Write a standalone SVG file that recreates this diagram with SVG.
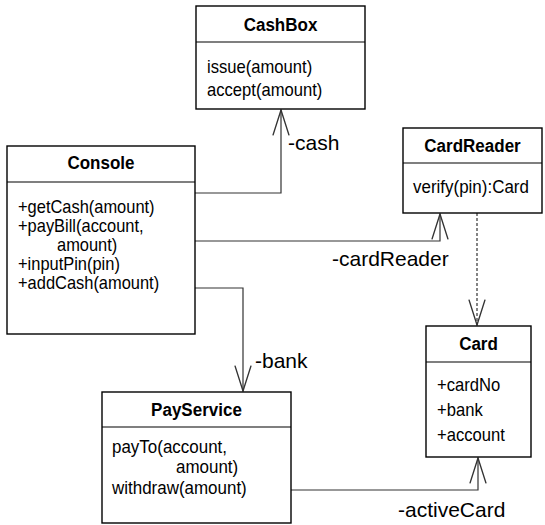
<svg xmlns="http://www.w3.org/2000/svg" width="545" height="525" viewBox="0 0 545 525">
  <style>
    .box { fill: #ffffff; stroke: #000000; stroke-width: 1.4; }
    .div { stroke: #000000; stroke-width: 1.2; }
    .title { font-family: "Liberation Sans", Arial, sans-serif; font-size: 18.5px; font-weight: bold; text-anchor: middle; fill: #000; }
    .member { font-family: "Liberation Sans", Arial, sans-serif; font-size: 17.5px; fill: #000; }
    .label { font-family: "Liberation Sans", Arial, sans-serif; font-size: 21px; fill: #000; }
    .conn { fill: none; stroke: #333333; stroke-width: 1.2; marker-end: url(#open); }
    .dep { stroke-dasharray: 3 2; }
  </style>
  <defs>
    <marker id="open" markerUnits="userSpaceOnUse" markerWidth="30" markerHeight="30" viewBox="-24 -10 26 20" refX="0" refY="0" orient="auto" overflow="visible">
      <path d="M-22,-7 L0,0 L-22,7" fill="none" stroke="#333333" stroke-width="1.2"/>
    </marker>
  </defs>

  <!-- associations -->
  <g id="connectors">
    <path class="conn" d="M195,193 H281 V110"/>
    <path class="conn" d="M195,241 H440 V214"/>
    <path class="conn" d="M195,288 H243 V391"/>
    <path class="conn" d="M291,490 H478 V458"/>
    <path class="conn dep" d="M477,213 V325"/>
    <text class="label" x="288" y="150">-cash</text>
    <text class="label" x="332" y="266">-cardReader</text>
    <text class="label" x="255" y="368">-bank</text>
    <text class="label" x="398" y="517">-activeCard</text>
  </g>

  <!-- class text is slightly condensed: scale(0.92|0.95, 1) -->
  <g id="CashBox">
    <rect class="box" x="196" y="6" width="169" height="103"/>
    <line class="div" x1="196" y1="42" x2="365" y2="42"/>
    <text class="title" transform="translate(280.5,31) scale(0.92,1)">CashBox</text>
    <text class="member" transform="translate(207,73) scale(0.95,1)">issue(amount)</text>
    <text class="member" transform="translate(207,96) scale(0.95,1)">accept(amount)</text>
  </g>

  <g id="Console">
    <rect class="box" x="7" y="146" width="188" height="188"/>
    <line class="div" x1="7" y1="182" x2="195" y2="182"/>
    <text class="title" transform="translate(101,169) scale(0.92,1)">Console</text>
    <text class="member" transform="translate(18,213) scale(0.94,1)">+getCash(amount)</text>
    <text class="member" transform="translate(18,232) scale(0.94,1)">+payBill(account,</text>
    <text class="member" transform="translate(57,251) scale(0.94,1)">amount)</text>
    <text class="member" transform="translate(18,270) scale(0.94,1)">+inputPin(pin)</text>
    <text class="member" transform="translate(18,289) scale(0.94,1)">+addCash(amount)</text>
  </g>

  <g id="CardReader">
    <rect class="box" x="403" y="128" width="139" height="85"/>
    <line class="div" x1="403" y1="163" x2="542" y2="163"/>
    <text class="title" transform="translate(472.5,152) scale(0.92,1)">CardReader</text>
    <text class="member" transform="translate(413,193) scale(0.97,1)">verify(pin):Card</text>
  </g>

  <g id="Card">
    <rect class="box" x="426" y="326" width="105" height="131"/>
    <line class="div" x1="426" y1="362" x2="531" y2="362"/>
    <text class="title" transform="translate(478.5,350) scale(0.92,1)">Card</text>
    <text class="member" transform="translate(437,391) scale(0.95,1)">+cardNo</text>
    <text class="member" transform="translate(437,416) scale(0.95,1)">+bank</text>
    <text class="member" transform="translate(437,441) scale(0.95,1)">+account</text>
  </g>

  <g id="PayService">
    <rect class="box" x="102" y="392" width="189" height="131"/>
    <line class="div" x1="102" y1="427" x2="291" y2="427"/>
    <text class="title" transform="translate(196.5,416) scale(0.92,1)">PayService</text>
    <text class="member" transform="translate(112,453) scale(0.97,1)">payTo(account,</text>
    <text class="member" transform="translate(176,473) scale(0.97,1)">amount)</text>
    <text class="member" transform="translate(112,494) scale(0.97,1)">withdraw(amount)</text>
  </g>
</svg>
